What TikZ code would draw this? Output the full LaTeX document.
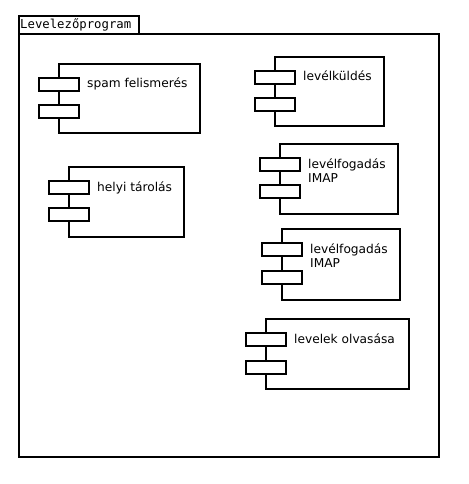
\documentclass[tikz,border=0pt]{standalone}
\usepackage{fontspec}
\setmainfont{DejaVu Sans}
\setmonofont{DejaVu Sans Mono}
\usetikzlibrary{positioning}

\begin{document}
\begin{tikzpicture}[
    x=1pt, y=-1pt,
    comp/.style={draw, rectangle, line width=2pt, anchor=north west, inner sep=0pt, minimum height=70pt},
    port/.style={draw, rectangle, line width=2pt, fill=white, anchor=north west, inner sep=0pt, minimum width=40pt, minimum height=13pt},
    lbl/.style={anchor=base west, inner sep=0pt, align=left, font=\fontsize{12.2}{14}\selectfont},
    pkg/.style={draw, line width=2pt}
]
\useasboundingbox (0,0) rectangle (468,484);

% Package
\node (tab) [pkg, anchor=north west, inner sep=0pt, minimum width=120pt, minimum height=18pt] at (18,15) {};
\node (tabtext) [anchor=base west, inner sep=0pt, font=\ttfamily\fontsize{12.3}{14}\selectfont] at (20,29) {Levelezőprogram};
\node (frame) [pkg, anchor=north west, inner sep=0pt, minimum width=420pt, minimum height=423pt] at (18,33) {};

% Components
\node (spam) [comp, minimum width=141pt, minimum height=69pt] at (58,63) {};
\node (spamA) [port, xshift=-20pt, yshift=-14pt] at (spam.north west) {};
\node (spamB) [port, xshift=-20pt, yshift=-41pt] at (spam.north west) {};
\node (spamL) [lbl, xshift=29pt, yshift=-25pt] at (spam.north west) {spam felismerés};

\node (helyi) [comp, minimum width=115pt] at (68,166) {};
\node (helyiA) [port, xshift=-20pt, yshift=-14pt] at (helyi.north west) {};
\node (helyiB) [port, xshift=-20pt, yshift=-41pt] at (helyi.north west) {};
\node (helyiL) [lbl, xshift=29pt, yshift=-25pt] at (helyi.north west) {helyi tárolás};

\node (kuld) [comp, minimum width=109pt, minimum height=69pt] at (274,56) {};
\node (kuldA) [port, xshift=-20pt, yshift=-14pt] at (kuld.north west) {};
\node (kuldB) [port, xshift=-20pt, yshift=-41pt] at (kuld.north west) {};
\node (kuldL) [lbl, xshift=29pt, yshift=-25pt] at (kuld.north west) {levélküldés};

% two-line labels: base is the last line
\node (fogA) [comp, minimum width=118pt] at (279,143) {};
\node (fogAa) [port, xshift=-20pt, yshift=-14pt] at (fogA.north west) {};
\node (fogAb) [port, xshift=-20pt, yshift=-41pt] at (fogA.north west) {};
\node (fogAL) [lbl, xshift=29pt, yshift=-39pt] at (fogA.north west) {levélfogadás\\IMAP};

\node (fogB) [comp, minimum width=118pt, minimum height=71pt] at (281,228) {};
\node (fogBa) [port, xshift=-20pt, yshift=-14pt] at (fogB.north west) {};
\node (fogBb) [port, xshift=-20pt, yshift=-42pt] at (fogB.north west) {};
\node (fogBL) [lbl, xshift=29pt, yshift=-39pt] at (fogB.north west) {levélfogadás\\IMAP};

\node (olvas) [comp, minimum width=143pt] at (265,318) {};
\node (olvasA) [port, xshift=-20pt, yshift=-14pt] at (olvas.north west) {};
\node (olvasB) [port, xshift=-20pt, yshift=-42pt] at (olvas.north west) {};
\node (olvasL) [lbl, xshift=29pt, yshift=-25pt] at (olvas.north west) {levelek olvasása};

\end{tikzpicture}
\end{document}
